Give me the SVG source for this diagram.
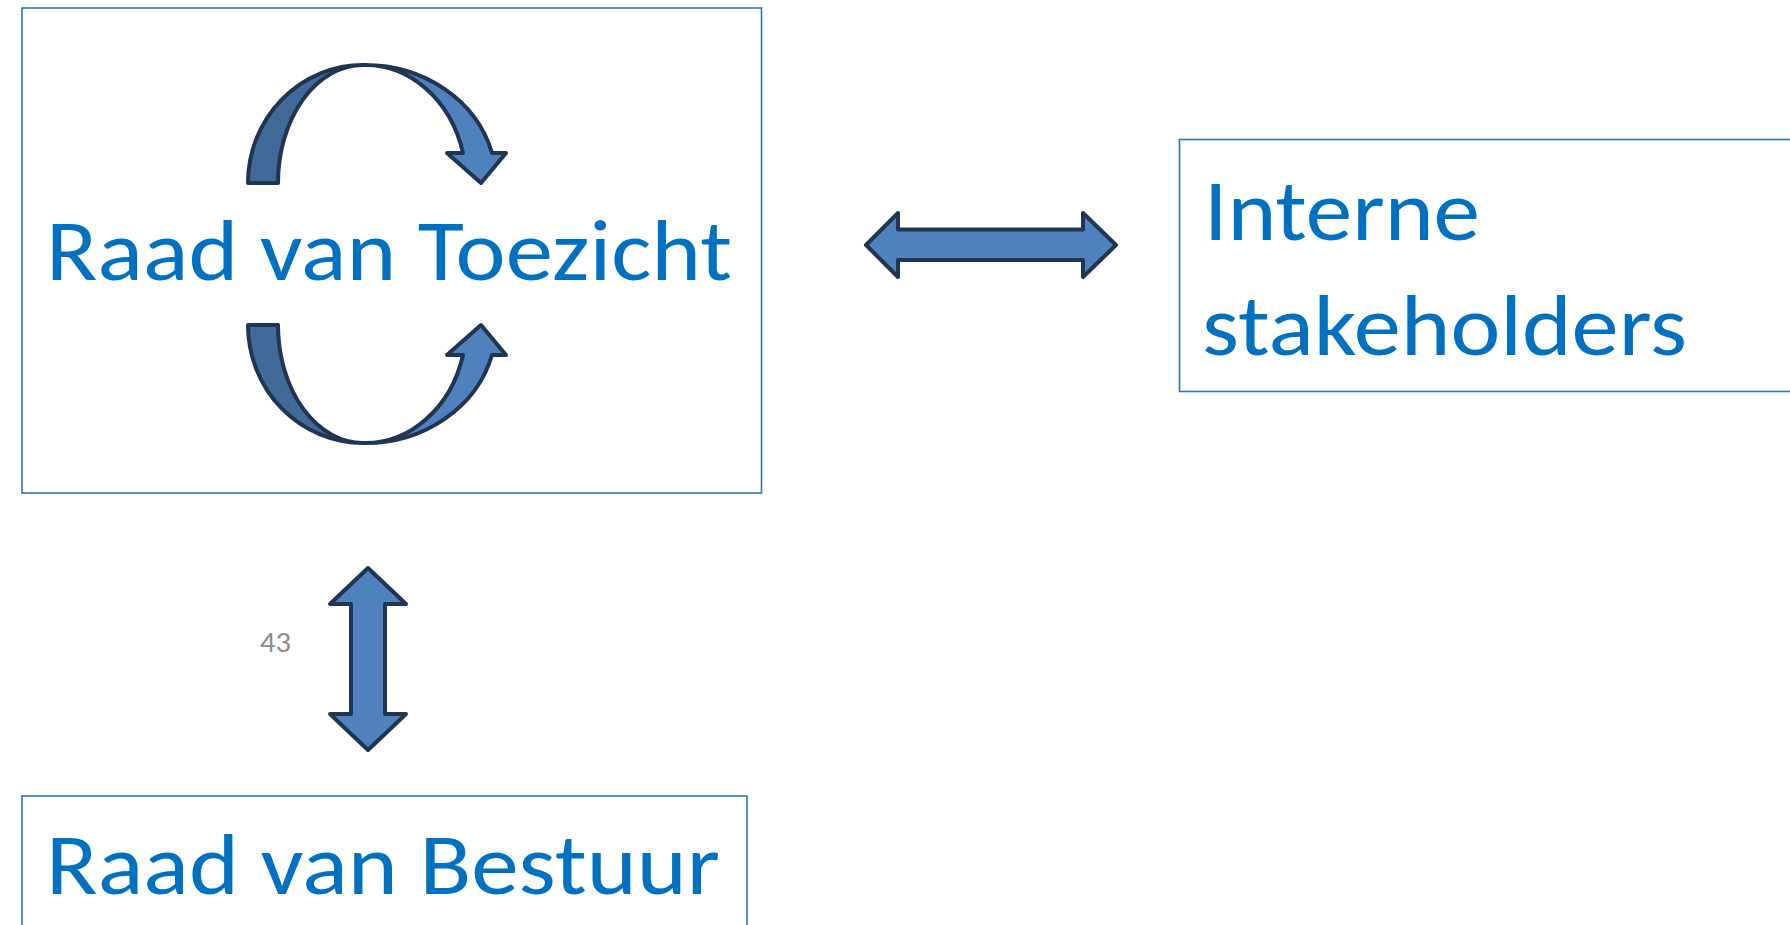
<svg xmlns="http://www.w3.org/2000/svg" width="1790" height="925" viewBox="0 0 1790 925">
  <style>
    .box { fill: #ffffff; stroke: #2e75b6; stroke-width: 1.6; }
    .label { font-family: Carlito, Lato, "Liberation Sans", sans-serif; fill: #0070c0; }
    .big { font-size: 87px; }
    .arrow { stroke: #1f3551; stroke-width: 4; stroke-linejoin: round; }
    .light { fill: #4f81bd; }
    .dark { fill: #426a99; }
    .num { font-family: Carlito, Lato, "Liberation Sans", sans-serif; font-size: 29px; fill: #8c8c8c; }
  </style>
  <defs>
    <!-- curved cycle arrow: shaded back band on the left, front band with head on the right -->
    <g id="cycleArrow">
      <path class="arrow dark" d="M 248 183 A 115 118 0 0 1 363 65 A 85 118 0 0 0 278 183 Z"/>
      <path class="arrow light" d="M 363 65 A 131 118 0 0 1 492 153 L 506 153 L 481 183 L 447 153 L 463 153 A 101 118 0 0 0 363 65 Z"/>
    </g>
  </defs>
  <rect x="0" y="0" width="1790" height="925" fill="#ffffff"/>

  <g id="raad-van-toezicht">
    <rect class="box" x="22" y="8" width="739.5" height="485"/>
    <use href="#cycleArrow"/>
    <use href="#cycleArrow" transform="translate(0,508) scale(1,-1)"/>
    <text class="label big" x="46" y="280" textLength="686" lengthAdjust="spacingAndGlyphs">Raad van Toezicht</text>
  </g>

  <g id="interne-stakeholders">
    <rect class="box" x="1179.5" y="139.5" width="700" height="252"/>
    <text class="label big" x="1204" y="240" textLength="276" lengthAdjust="spacingAndGlyphs">Interne</text>
    <text class="label big" x="1202" y="355" textLength="485" lengthAdjust="spacingAndGlyphs">stakeholders</text>
  </g>

  <g id="raad-van-bestuur">
    <rect class="box" x="22" y="796" width="725" height="200"/>
    <text class="label big" x="46" y="894" textLength="674" lengthAdjust="spacingAndGlyphs">Raad van Bestuur</text>
  </g>

  <g id="connectors">
    <polygon class="arrow light" points="866,245 898,213 898,229.5 1083,229.5 1083,213 1116,245 1083,277 1083,260 898,260 898,277"/>
    <polygon class="arrow light" points="368,568 406,604 385,604 385,714 406,714 368,750 330,714 351,714 351,604 330,604"/>
  </g>

  <text class="num" x="260" y="652" textLength="31" lengthAdjust="spacingAndGlyphs">43</text>
</svg>
